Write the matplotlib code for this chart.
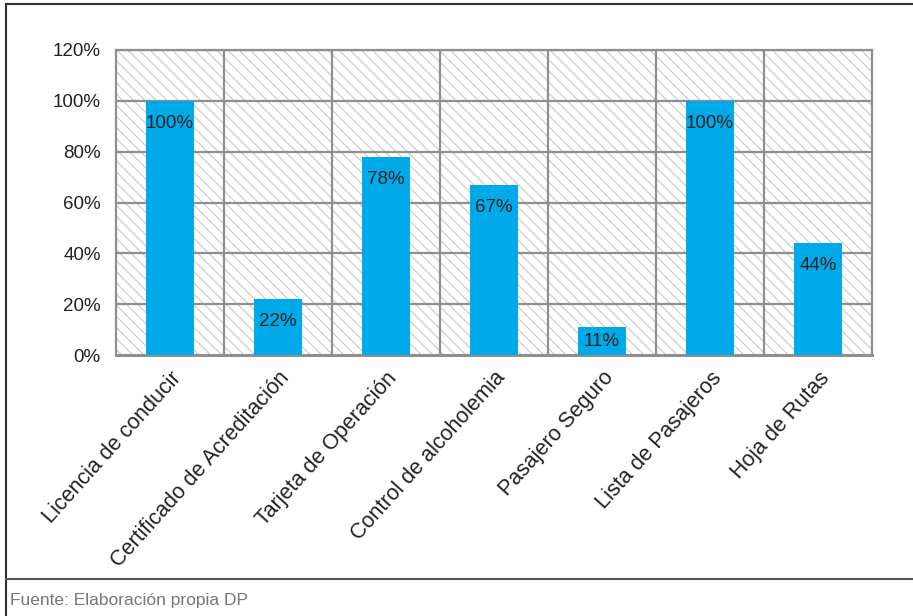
import matplotlib.pyplot as plt
from matplotlib.patches import Rectangle
from matplotlib.lines import Line2D
from matplotlib.ticker import FuncFormatter, MultipleLocator

plt.rcParams['font.family'] = ['Liberation Sans', 'DejaVu Sans']
plt.rcParams['hatch.color'] = '#c8c8c8'
plt.rcParams['hatch.linewidth'] = 0.8

# Data
categorias = ['Licencia de conducir', 'Certificado de Acreditación', 'Tarjeta de Operación',
              'Control de alcoholemia', 'Pasajero Seguro', 'Lista de Pasajeros', 'Hoja de Rutas']
valores = [100, 22, 78, 67, 11, 100, 44]
etiquetas = ['100%', '22%', '78%', '67%', '11%', '100%', '44%']

BLUE = '#00aae9'
GRID = '#8f8f8f'

fig = plt.figure(figsize=(9.13, 6.16), dpi=100)
ax = fig.add_axes([116 / 913, 1 - 355 / 616, (872 - 116) / 913, (355 - 50) / 616])

n = len(categorias)
x = list(range(n))

# hatched background
ax.add_patch(Rectangle((0, 0), 1, 1, transform=ax.transAxes, facecolor='white',
                       hatch='\\\\\\', edgecolor='#c8c8c8', linewidth=0, zorder=0))

# grid: horizontal at ticks, vertical at category boundaries
for y in range(20, 121, 20):
    ax.axhline(y, color=GRID, linewidth=1.6, zorder=1)
for b in range(1, n):
    ax.axvline(b - 0.5, color=GRID, linewidth=1.6, zorder=1)

ax.bar(x, valores, width=0.44, color=BLUE, zorder=3)
for xi, v, t in zip(x, valores, etiquetas):
    off = -10 if v > 15 else -4
    ax.annotate(t, (xi, v), xytext=(0, off), textcoords='offset points',
                ha='center', va='top', fontsize=13.5, color='#222222', zorder=4)

ax.set_xlim(-0.5, n - 0.5)
ax.set_ylim(0, 120)
ax.yaxis.set_major_locator(MultipleLocator(20))
ax.yaxis.set_major_formatter(FuncFormatter(lambda v, p: '{:.0f}%'.format(v)))
ax.set_xticks(x)
ax.set_xticklabels(categorias, rotation=48, ha='right', rotation_mode='anchor', fontsize=15.5, color='#222222')
ax.tick_params(axis='y', labelsize=13.5, colors='#222222', length=0, pad=11)
ax.tick_params(axis='x', length=0, pad=9)
for s in ax.spines.values():
    s.set_color(GRID)
    s.set_linewidth(1.6)
ax.spines['bottom'].set_linewidth(2.2)

# outer frame and footer
fig.add_artist(Line2D([6 / 913, 6 / 913], [0, 1 - 4 / 616], transform=fig.transFigure, color='#333333', linewidth=1.5))
fig.add_artist(Line2D([6 / 913, 1], [1 - 4 / 616, 1 - 4 / 616], transform=fig.transFigure, color='#333333', linewidth=1.5))
fig.add_artist(Line2D([6 / 913, 1], [1 - 579 / 616, 1 - 579 / 616], transform=fig.transFigure, color='#555555', linewidth=1.5))
fig.text(10 / 913, 1 - 600 / 616, 'Fuente: Elaboración propia DP', fontsize=12.5, color='#777777',
         va='center', ha='left')

fig.savefig('out.png', dpi=100)
